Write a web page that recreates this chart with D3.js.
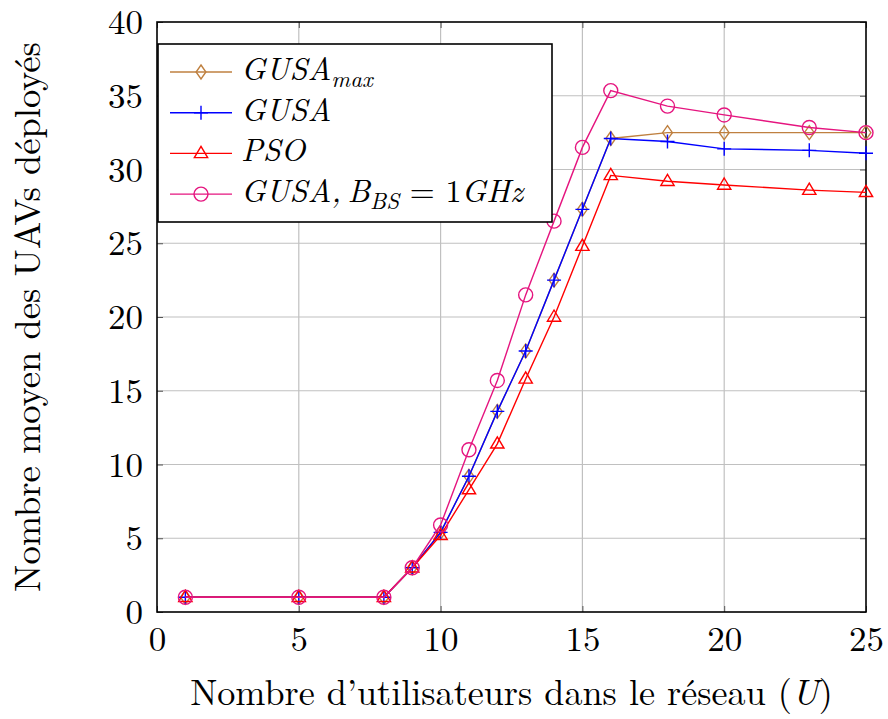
<!DOCTYPE html>
<html>
<head>
<meta charset="utf-8">
<script src="https://cdn.jsdelivr.net/npm/d3@7"></script>
<style>
  body { margin: 0; background: #fff; }
</style>
</head>
<body>
<div id="chart"></div>
<script>
// data
var users = [1, 5, 8, 9, 10, 11, 12, 13, 14, 15, 16, 18, 20, 23, 25];
var gusaMax = [1, 1, 1, 3, 5.4, 9.2, 13.6, 17.7, 22.5, 27.3, 32.1, 32.5, 32.5, 32.5, 32.5];
var gusa = [1, 1, 1, 3, 5.4, 9.2, 13.6, 17.7, 22.5, 27.3, 32.1, 31.9, 31.4, 31.3, 31.1];
var pso = [1, 1, 1, 3, 5.2, 8.3, 11.4, 15.8, 20.0, 24.8, 29.6, 29.2, 28.95, 28.6, 28.45];
var gusaBs = [1, 1, 1, 3, 5.9, 11.0, 15.7, 21.5, 26.5, 31.5, 35.35, 34.3, 33.7, 32.85, 32.5];
var xTicks = [0, 5, 10, 15, 20, 25];
var yTicks = [0, 5, 10, 15, 20, 25, 30, 35, 40];

var series = [
  { name: "GUSA", sub: "max", values: gusaMax, color: "#bf8040", marker: "diamond" },
  { name: "GUSA", sub: null, values: gusa, color: "#0000ff", marker: "plus" },
  { name: "PSO", sub: null, values: pso, color: "#ff0000", marker: "triangle" },
  { name: "GUSA,\u2009B", sub: "BS", tail: true, values: gusaBs, color: "#e5157f", marker: "circle" }
];

var FONT = "'Latin Modern Roman', 'Liberation Serif', serif";

var W = 888, H = 719;
var margin = { left: 157, right: 22, top: 22, bottom: 107 };
var width = W - margin.left - margin.right;
var height = H - margin.top - margin.bottom;

var root = d3.select("#chart").append("svg").attr("width", W).attr("height", H)
  .style("font-family", FONT);
var svg = root.append("g").attr("transform", "translate(" + margin.left + "," + margin.top + ")");

var x = d3.scaleLinear().domain([0, 25]).range([0, width]);
var y = d3.scaleLinear().domain([0, 40]).range([height, 0]);

// grid
svg.append("g").selectAll("line").data(xTicks.slice(1, -1)).join("line")
  .attr("x1", x).attr("x2", x).attr("y1", 0).attr("y2", height)
  .attr("stroke", "#c0c0c0").attr("stroke-width", 1.2);
svg.append("g").selectAll("line").data(yTicks.slice(1, -1)).join("line")
  .attr("y1", y).attr("y2", y).attr("x1", 0).attr("x2", width)
  .attr("stroke", "#c0c0c0").attr("stroke-width", 1.2);

// axes
var xAxis = svg.append("g").attr("transform", "translate(0," + height + ")")
  .call(d3.axisBottom(x).tickValues(xTicks).tickSize(-6).tickPadding(14).tickSizeOuter(0));
var yAxis = svg.append("g")
  .call(d3.axisLeft(y).tickValues(yTicks).tickSize(-6).tickPadding(14).tickSizeOuter(0));
// mirrored ticks on top/right
svg.append("g")
  .call(d3.axisTop(x).tickValues(xTicks).tickSize(-6).tickFormat("").tickSizeOuter(0));
svg.append("g").attr("transform", "translate(" + width + ",0)")
  .call(d3.axisRight(y).tickValues(yTicks).tickSize(-6).tickFormat("").tickSizeOuter(0));
svg.selectAll(".domain").remove();
svg.selectAll(".tick line").attr("stroke", "#555").attr("stroke-width", 1);
svg.selectAll("g").attr("font-family", null).attr("font-size", null);
xAxis.selectAll("text").style("font-size", "35px").style("font-family", FONT);
yAxis.selectAll("text").style("font-size", "35px").style("font-family", FONT).attr("dy", "0.33em");

svg.append("rect").attr("width", width).attr("height", height)
  .attr("fill", "none").attr("stroke", "#000").attr("stroke-width", 1.6);

// markers
function drawMarker(g, type, color, cx, cy) {
  var s = 7;
  if (type === "circle") {
    g.append("circle").attr("cx", cx).attr("cy", cy).attr("r", s)
      .attr("fill", "none").attr("stroke", color).attr("stroke-width", 1.4);
  } else if (type === "diamond") {
    g.append("path").attr("d", "M" + cx + "," + (cy - s) + "L" + (cx + s * 0.7) + "," + cy +
      "L" + cx + "," + (cy + s) + "L" + (cx - s * 0.7) + "," + cy + "Z")
      .attr("fill", "none").attr("stroke", color).attr("stroke-width", 1.4);
  } else if (type === "triangle") {
    g.append("path").attr("d", "M" + cx + "," + (cy - s) + "L" + (cx + s * 0.95) + "," + (cy + s * 0.6) +
      "L" + (cx - s * 0.95) + "," + (cy + s * 0.6) + "Z")
      .attr("fill", "none").attr("stroke", color).attr("stroke-width", 1.4);
  } else {
    g.append("path").attr("d", "M" + (cx - s) + "," + cy + "H" + (cx + s) + "M" + cx + "," + (cy - s) + "V" + (cy + s))
      .attr("fill", "none").attr("stroke", color).attr("stroke-width", 1.4);
  }
}

var line = d3.line().x(function(d) { return x(d[0]); }).y(function(d) { return y(d[1]); });

series.forEach(function(s) {
  var pts = users.map(function(u, i) { return [u, s.values[i]]; });
  var g = svg.append("g");
  g.append("path").datum(pts).attr("d", line).attr("fill", "none")
    .attr("stroke", s.color).attr("stroke-width", 1.4);
  pts.forEach(function(p) { drawMarker(g, s.marker, s.color, x(p[0]), y(p[1])); });
});

// legend
var leg = svg.append("g").attr("transform", "translate(1,22)");
leg.append("rect").attr("width", 394).attr("height", 178)
  .attr("fill", "#fff").attr("stroke", "#000").attr("stroke-width", 1.6);
series.forEach(function(s, i) {
  var ly = 28 + i * 40.7;
  leg.append("line").attr("x1", 12).attr("x2", 74).attr("y1", ly).attr("y2", ly)
    .attr("stroke", s.color).attr("stroke-width", 1.4);
  drawMarker(leg, s.marker, s.color, 43, ly);
  var t = leg.append("text").attr("x", 83).attr("y", ly + 8)
    .style("font-family", FONT).style("font-size", "32px").style("font-style", "italic");
  t.append("tspan").text(s.name);
  if (s.sub) {
    t.append("tspan").attr("dy", 7).style("font-size", "23px").text(s.sub);
  }
  if (s.tail) {
    t.append("tspan").attr("dy", -7).style("font-style", "normal").text(" = 1");
    t.append("tspan").text("GHz");
  }
});

// axis labels
var xl = svg.append("text").attr("x", width / 2).attr("y", height + 93)
  .attr("text-anchor", "middle").style("font-family", FONT).style("font-size", "30px");
xl.append("tspan").text("Nombre d\u2019utilisateurs dans le réseau (");
xl.append("tspan").style("font-style", "italic").text("U");
xl.append("tspan").text(")");
var yl = svg.append("text").attr("transform", "translate(" + (-117) + "," + (height / 2) + ") rotate(-90)")
  .attr("text-anchor", "middle").style("font-family", FONT).style("font-size", "30px")
  .text("Nombre moyen des UAVs déployés");
// fit label sizes to the reference widths
xl.style("font-size", (30 * 643 / xl.node().getComputedTextLength()) + "px");
yl.style("font-size", (30 * 550 / yl.node().getComputedTextLength()) + "px");
</script>
</body>
</html>
